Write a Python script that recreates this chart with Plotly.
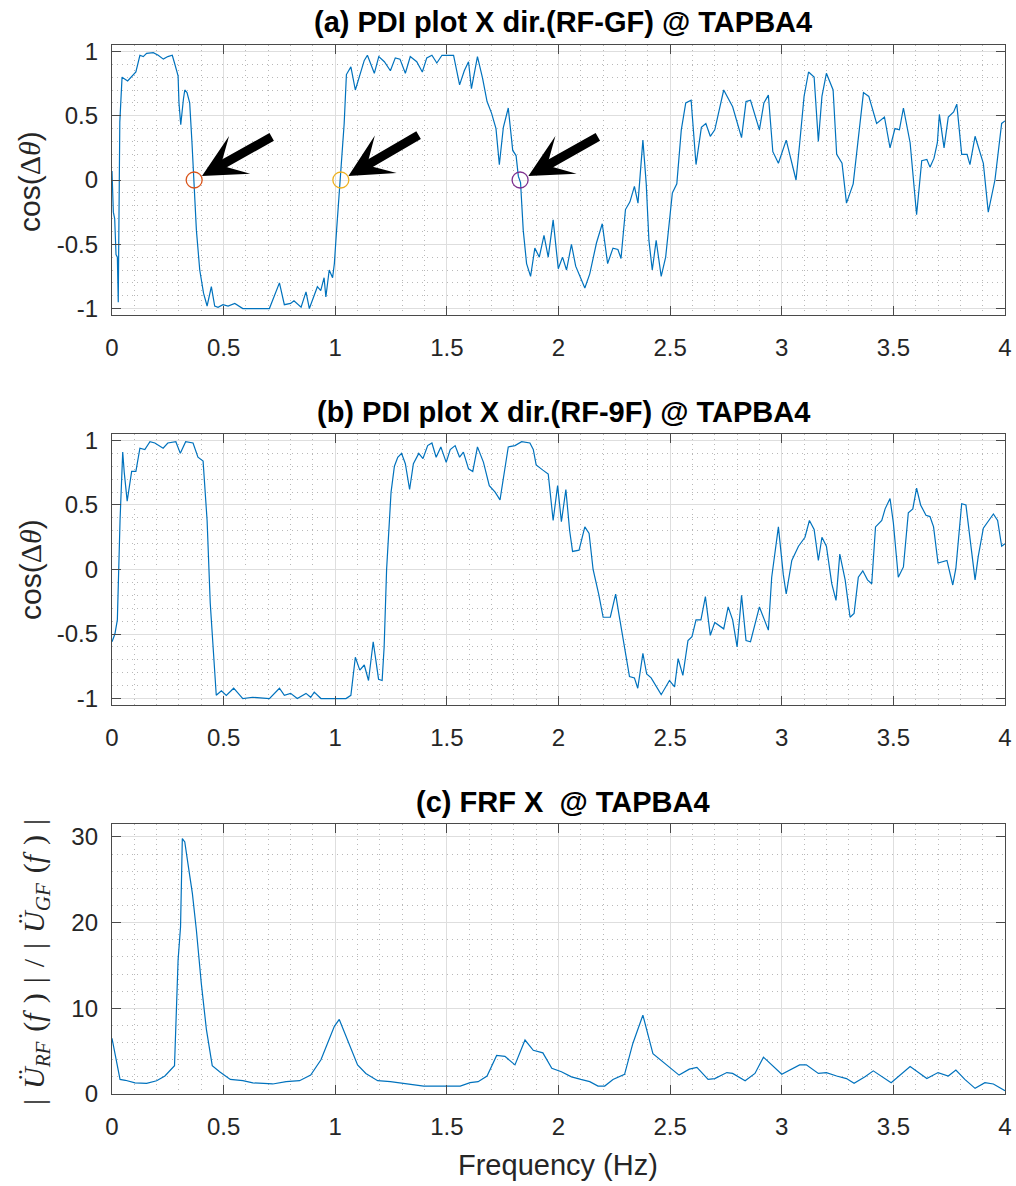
import plotly.graph_objects as go

# ---- (a) PDI, X direction, RF vs GF ----
freq_a = [0.000, 0.006, 0.012, 0.018, 0.024, 0.028, 0.035, 0.045, 0.070, 0.090, 0.107, 0.125, 0.140,
          0.155, 0.170, 0.185, 0.207, 0.230, 0.250, 0.270, 0.280, 0.296, 0.300, 0.308, 0.320, 0.326,
          0.336, 0.348, 0.358, 0.366, 0.378, 0.393, 0.410, 0.426, 0.445, 0.460, 0.475, 0.497, 0.520,
          0.550, 0.586, 0.646, 0.705, 0.750, 0.772, 0.800, 0.815, 0.847, 0.869, 0.884, 0.920, 0.935,
          0.950, 0.958, 0.973, 0.988, 0.996, 1.006, 1.021, 1.040, 1.050, 1.070, 1.090, 1.107, 1.130,
          1.144, 1.160, 1.175, 1.195, 1.220, 1.247, 1.269, 1.290, 1.314, 1.336, 1.365, 1.390, 1.410,
          1.433, 1.455, 1.478, 1.505, 1.530, 1.557, 1.578, 1.597, 1.610, 1.637, 1.660, 1.680, 1.700,
          1.720, 1.735, 1.753, 1.775, 1.795, 1.810, 1.820, 1.830, 1.842, 1.857, 1.875, 1.894, 1.914,
          1.935, 1.954, 1.976, 1.999, 2.018, 2.036, 2.058, 2.077, 2.097, 2.118, 2.140, 2.170, 2.196,
          2.220, 2.244, 2.266, 2.280, 2.300, 2.320, 2.340, 2.356, 2.378, 2.393, 2.405, 2.420, 2.4375,
          2.460, 2.480, 2.510, 2.530, 2.550, 2.570, 2.594, 2.616, 2.640, 2.660, 2.680, 2.700, 2.740,
          2.780, 2.820, 2.840, 2.860, 2.900, 2.920, 2.940, 2.960, 2.985, 3.020, 3.064, 3.080, 3.100,
          3.120, 3.145, 3.164, 3.180, 3.200, 3.230, 3.246, 3.270, 3.290, 3.320, 3.366, 3.390, 3.425,
          3.460, 3.485, 3.507, 3.527, 3.545, 3.575, 3.604, 3.627, 3.650, 3.664, 3.682, 3.697, 3.706,
          3.727, 3.746, 3.770, 3.784, 3.806, 3.830, 3.843, 3.866, 3.903, 3.925, 3.955, 3.985, 4.000]
pdi_a = [0.07, -0.25, -0.30, -0.58, -0.60, -0.95, 0.45, 0.80, 0.77, 0.81, 0.84, 0.97, 0.96,
         0.985, 0.99, 0.99, 0.97, 0.94, 0.96, 0.97, 0.91, 0.81, 0.60, 0.43, 0.63, 0.70,
         0.68, 0.60, 0.30, 0.00, -0.39, -0.70, -0.88, -0.98, -0.83, -0.98, -0.99, -0.97, -0.98,
         -0.96, -1.00, -1.00, -1.00, -0.80, -0.97, -0.96, -0.94, -0.99, -0.87, -1.00, -0.83, -0.86,
         -0.76, -0.91, -0.70, -0.76, -0.65, -0.39, 0.00, 0.44, 0.82, 0.88, 0.70, 0.79, 0.93,
         0.97, 0.90, 0.83, 0.96, 0.92, 0.85, 0.95, 0.94, 0.83, 0.96, 0.92, 0.84, 0.95,
         0.97, 0.91, 0.97, 0.97, 0.97, 0.74, 0.85, 0.92, 0.71, 0.96, 0.79, 0.61, 0.52,
         0.40, 0.12, 0.41, 0.56, 0.23, 0.19, 0.03, -0.02, -0.39, -0.65, -0.75, -0.53, -0.60,
         -0.43, -0.60, -0.31, -0.69, -0.60, -0.70, -0.50, -0.67, -0.75, -0.84, -0.73, -0.49, -0.34,
         -0.65, -0.53, -0.54, -0.61, -0.23, -0.17, -0.05, -0.18, 0.31, -0.03, -0.47, -0.70, -0.47,
         -0.75, -0.60, -0.10, -0.03, 0.39, 0.60, 0.62, 0.12, 0.41, 0.44, 0.34, 0.39, 0.70,
         0.57, 0.33, 0.61, 0.62, 0.39, 0.60, 0.66, 0.22, 0.13, 0.31, 0.00, 0.28, 0.65,
         0.84, 0.80, 0.30, 0.65, 0.83, 0.70, 0.20, 0.13, -0.18, -0.03, 0.68, 0.65, 0.44,
         0.49, 0.25, 0.40, 0.39, 0.56, 0.29, -0.27, 0.15, 0.16, 0.10, 0.17, 0.29, 0.51,
         0.25, 0.49, 0.53, 0.59, 0.20, 0.20, 0.12, 0.34, 0.13, -0.25, 0.00, 0.44, 0.46]

# zero crossings highlighted on (a)
mark_freq = [0.368, 1.025, 1.828]
mark_val = [0.0, 0.0, 0.0]
mark_colors = ["#D95319", "#EDB120", "#7E2F8E"]

# ---- (b) PDI, X direction, RF vs 9F ----
freq_b = [0.000, 0.013, 0.024, 0.036, 0.048, 0.055, 0.068, 0.080, 0.088, 0.107, 0.125, 0.147, 0.170,
          0.192, 0.229, 0.250, 0.286, 0.306, 0.330, 0.363, 0.385, 0.408, 0.426, 0.440, 0.467, 0.490,
          0.512, 0.545, 0.586, 0.630, 0.705, 0.750, 0.772, 0.800, 0.830, 0.869, 0.890, 0.906, 0.936,
          1.048, 1.070, 1.090, 1.110, 1.130, 1.149, 1.170, 1.185, 1.194, 1.210, 1.219, 1.230, 1.250,
          1.265, 1.280, 1.297, 1.314, 1.333, 1.350, 1.374, 1.393, 1.414, 1.433, 1.452, 1.473, 1.497,
          1.515, 1.537, 1.557, 1.574, 1.597, 1.616, 1.637, 1.664, 1.690, 1.716, 1.738, 1.775, 1.805,
          1.835, 1.872, 1.887, 1.900, 1.930, 1.954, 1.976, 1.996, 2.013, 2.033, 2.050, 2.063, 2.092,
          2.118, 2.137, 2.155, 2.180, 2.200, 2.232, 2.256, 2.270, 2.296, 2.318, 2.340, 2.355, 2.378,
          2.395, 2.415, 2.4375, 2.460, 2.497, 2.520, 2.536, 2.557, 2.580, 2.598, 2.616, 2.638, 2.658,
          2.680, 2.700, 2.740, 2.760, 2.780, 2.800, 2.820, 2.840, 2.860, 2.900, 2.940, 2.955, 2.985,
          3.007, 3.020, 3.045, 3.075, 3.104, 3.124, 3.145, 3.164, 3.180, 3.200, 3.224, 3.243, 3.260,
          3.284, 3.306, 3.324, 3.343, 3.363, 3.384, 3.403, 3.420, 3.448, 3.463, 3.485, 3.500, 3.522,
          3.545, 3.567, 3.587, 3.604, 3.622, 3.646, 3.664, 3.680, 3.700, 3.740, 3.766, 3.780, 3.806,
          3.825, 3.866, 3.880, 3.903, 3.925, 3.948, 3.967, 3.985, 4.000]
pdi_b = [-0.56, -0.50, -0.39, 0.38, 0.91, 0.75, 0.53, 0.69, 0.76, 0.76, 0.94, 0.93, 0.99,
         0.98, 0.94, 0.98, 0.99, 0.90, 0.99, 0.98, 0.87, 0.84, 0.38, -0.26, -0.975, -0.94,
         -0.975, -0.92, -1.00, -0.99, -1.00, -0.92, -0.975, -0.96, -1.00, -0.96, -0.99, -0.95, -1.00,
         -1.00, -0.975, -0.68, -0.78, -0.74, -0.86, -0.56, -0.74, -0.85, -0.86, -0.60, 0.00, 0.60,
         0.80, 0.87, 0.90, 0.82, 0.62, 0.82, 0.90, 0.86, 0.96, 0.98, 0.87, 0.95, 0.83,
         0.93, 0.96, 0.87, 0.91, 0.78, 0.76, 0.95, 0.83, 0.65, 0.60, 0.54, 0.95, 0.96,
         0.99, 0.98, 0.93, 0.81, 0.77, 0.74, 0.38, 0.65, 0.37, 0.62, 0.30, 0.14, 0.15,
         0.33, 0.28, 0.00, -0.19, -0.37, -0.37, -0.19, -0.34, -0.60, -0.83, -0.84, -0.92, -0.65,
         -0.81, -0.84, -0.91, -0.97, -0.86, -0.91, -0.69, -0.82, -0.55, -0.52, -0.39, -0.39, -0.21,
         -0.51, -0.41, -0.46, -0.29, -0.39, -0.60, -0.20, -0.55, -0.56, -0.29, -0.47, -0.06, 0.33,
         -0.04, -0.19, 0.07, 0.18, 0.25, 0.38, 0.31, 0.07, 0.25, 0.18, -0.11, -0.24, 0.12,
         -0.08, -0.37, -0.34, -0.06, -0.01, -0.08, -0.11, 0.33, 0.38, 0.47, 0.55, 0.36, -0.06,
         0.02, 0.44, 0.47, 0.63, 0.50, 0.42, 0.41, 0.33, 0.05, 0.07, -0.12, 0.01, 0.51,
         0.50, -0.08, 0.10, 0.32, 0.37, 0.43, 0.38, 0.18, 0.20]

# ---- (c) FRF magnitude ratio, X direction ----
freq_c = [0.000, 0.036, 0.060, 0.103, 0.155, 0.200, 0.237, 0.280, 0.296, 0.307, 0.315, 0.326, 0.340,
          0.360, 0.378, 0.400, 0.423, 0.449, 0.482, 0.530, 0.586, 0.631, 0.720, 0.780, 0.840, 0.890,
          0.936, 0.973, 0.996, 1.018, 1.048, 1.100, 1.137, 1.190, 1.247, 1.320, 1.396, 1.500, 1.560,
          1.604, 1.640, 1.680, 1.723, 1.760, 1.805, 1.850, 1.887, 1.930, 1.970, 2.013, 2.058, 2.100,
          2.140, 2.177, 2.207, 2.244, 2.296, 2.333, 2.378, 2.423, 2.490, 2.540, 2.586, 2.620, 2.670,
          2.700, 2.754, 2.780, 2.836, 2.880, 2.918, 3.000, 3.080, 3.110, 3.164, 3.200, 3.246, 3.290,
          3.324, 3.373, 3.410, 3.490, 3.575, 3.650, 3.700, 3.746, 3.780, 3.820, 3.866, 3.910, 3.948,
          4.000]
frf_c = [6.5, 1.7, 1.6, 1.3, 1.25, 1.55, 2.1, 3.3, 15.6, 19.5, 29.8, 29.4, 26.9,
         23.4, 19.1, 12.9, 7.5, 3.3, 2.6, 1.7, 1.55, 1.3, 1.17, 1.44, 1.55, 2.2,
         4.0, 6.3, 7.9, 8.7, 6.7, 3.4, 2.4, 1.55, 1.44, 1.17, 0.93, 0.93, 0.93,
         1.32, 1.44, 2.1, 4.5, 4.4, 3.4, 6.3, 5.1, 4.8, 3.0, 2.6, 2.0, 1.7,
         1.44, 0.93, 0.93, 1.7, 2.3, 5.9, 9.2, 4.7, 3.3, 2.2, 2.9, 3.1, 1.7,
         1.8, 2.5, 2.4, 1.55, 2.4, 4.3, 2.3, 3.4, 3.4, 2.4, 2.5, 2.1, 1.8,
         1.24, 2.0, 2.7, 1.32, 3.2, 1.8, 2.5, 2.1, 2.8, 1.7, 0.66, 1.32, 1.17,
         0.39]

# ---- ticks and labels ----
freq_ticks = [0, 0.5, 1, 1.5, 2, 2.5, 3, 3.5, 4]
freq_tick_text = ["0", "0.5", "1", "1.5", "2", "2.5", "3", "3.5", "4"]
pdi_ticks = [-1, -0.5, 0, 0.5, 1]
pdi_tick_text = ["-1", "-0.5", "0", "0.5", "1"]
frf_ticks = [0, 10, 20, 30]
frf_tick_text = ["0", "10", "20", "30"]

titles = ["(a) PDI plot X dir.(RF-GF) @ TAPBA4",
          "(b) PDI plot X dir.(RF-9F) @ TAPBA4",
          "(c) FRF X  @ TAPBA4"]
SERIF = "Liberation Serif, DejaVu Serif, serif"
pdi_ylabel = ("cos(<span style=\"font-family:Liberation Serif\">\u0394<i>\u03b8</i></span>)")
SP = "\u2004"  # three-per-em space, mimics math spacing
frf_ylabel = ("|" + SP + "<i>\u00dc</i><sub><i>RF</i></sub>" + SP + "(<i>f</i>" + SP + ")" + SP + "|"
              + SP + "/" + SP +
              "|" + SP + "<i>\u00dc</i><sub><i>GF</i></sub>" + SP + "(<i>f</i>" + SP + ")" + SP + "|")
xlabel = "Frequency (Hz)"

# ---- page geometry ----
W, H = 1016, 1186
L, R, T, B = 112, 11, 45, 92
PW, PH = W - L - R, H - T - B


def px_x(x):
    return (x - L) / PW


def px_y(y):
    return 1 - (y - T) / PH


LINE_BLUE = "#0072BD"
AX = "#4a4a4a"
TXT = "#262626"
SANS = "Liberation Sans, Arial, Helvetica, sans-serif"

fig = go.Figure()
fig.add_trace(go.Scatter(x=freq_a, y=pdi_a, mode="lines", line=dict(color=LINE_BLUE, width=1.2),
                         xaxis="x", yaxis="y", showlegend=False))
for f0, v0, c0 in zip(mark_freq, mark_val, mark_colors):
    fig.add_trace(go.Scatter(x=[f0], y=[v0], mode="markers",
                             marker=dict(symbol="circle-open", size=16, color=c0, line=dict(width=1.3)),
                             xaxis="x", yaxis="y", showlegend=False))
fig.add_trace(go.Scatter(x=freq_b, y=pdi_b, mode="lines", line=dict(color=LINE_BLUE, width=1.2),
                         xaxis="x2", yaxis="y2", showlegend=False))
fig.add_trace(go.Scatter(x=freq_c, y=frf_c, mode="lines", line=dict(color=LINE_BLUE, width=1.2),
                         xaxis="x3", yaxis="y3", showlegend=False))


def axis_style(**kw):
    d = dict(showline=True, linecolor=AX, linewidth=1.3, mirror="allticks",
             ticks="inside", ticklen=9, tickwidth=1.3, tickcolor=AX,
             showgrid=True, gridcolor="#dedede", gridwidth=1, zeroline=False,
             automargin=False,
             tickfont=dict(family=SANS, size=24, color=TXT))
    d.update(kw)
    return d


def minor_grid(step):
    return dict(dtick=step, tick0=0, showgrid=True, gridcolor="#b8b8b8",
                griddash="1px,4px", gridwidth=1)


domains = [(px_y(315), px_y(45)), (px_y(705), px_y(434)), (px_y(1094), px_y(824))]

layout = dict(width=W, height=H, margin=dict(l=L, r=R, t=T, b=B, autoexpand=False),
              paper_bgcolor="white", plot_bgcolor="white", showlegend=False)
for i, (d0, d1) in enumerate(domains, start=1):
    sfx = "" if i == 1 else str(i)
    layout["xaxis" + sfx] = axis_style(domain=[0, 1], range=[0, 4], anchor="y" + sfx,
                                       tickvals=freq_ticks, ticktext=freq_tick_text,
                                       minor=minor_grid(0.1), ticklabelstandoff=11)
    if i < 3:
        layout["yaxis" + sfx] = axis_style(domain=[d0, d1], range=[-1.05, 1.05], anchor="x" + sfx,
                                           tickvals=pdi_ticks, ticktext=pdi_tick_text,
                                           minor=minor_grid(0.1), ticklabelstandoff=8)
    else:
        layout["yaxis" + sfx] = axis_style(domain=[d0, d1], range=[0, 31.5], anchor="x" + sfx,
                                           tickvals=frf_ticks, ticktext=frf_tick_text,
                                           minor=minor_grid(2), ticklabelstandoff=8)
fig.update_layout(**layout)

# panel titles
title_y = [22, 412, 802]
for t, yy in zip(titles, title_y):
    fig.add_annotation(text="<b>" + t + "</b>", xref="paper", yref="paper",
                       x=px_x(563), y=px_y(yy), showarrow=False, xanchor="center", yanchor="middle",
                       font=dict(family=SANS, size=29, color="black"))

# y labels
for yy in (182, 570):
    fig.add_annotation(text=pdi_ylabel, xref="paper", yref="paper", x=px_x(30), y=px_y(yy),
                       textangle=-90, showarrow=False, xanchor="center", yanchor="middle",
                       font=dict(family=SANS, size=30, color=TXT))
fig.add_annotation(text=frf_ylabel, xref="paper", yref="paper", x=px_x(36), y=px_y(962),
                   textangle=-90, showarrow=False, xanchor="center", yanchor="middle",
                   font=dict(family=SERIF, size=30, color=TXT))

# x label
fig.add_annotation(text=xlabel, xref="paper", yref="paper", x=px_x(558), y=px_y(1165),
                   showarrow=False, xanchor="center", yanchor="middle",
                   font=dict(family=SANS, size=29, color=TXT))

# arrows pointing at the highlighted crossings
arrow_tips = [(0.403, 0.031), (1.059, 0.031), (1.865, 0.031)]
arrow_tails = [(0.722, 0.342), (1.380, 0.356), (2.183, 0.342)]
for (hx, hy), (tx, ty) in zip(arrow_tips, arrow_tails):
    fig.add_annotation(x=hx, y=hy, ax=tx, ay=ty, xref="x", yref="y", axref="x", ayref="y",
                       text="", showarrow=True, arrowhead=3, arrowsize=0.8, arrowwidth=9,
                       arrowcolor="black")

fig.write_html("out.html")
